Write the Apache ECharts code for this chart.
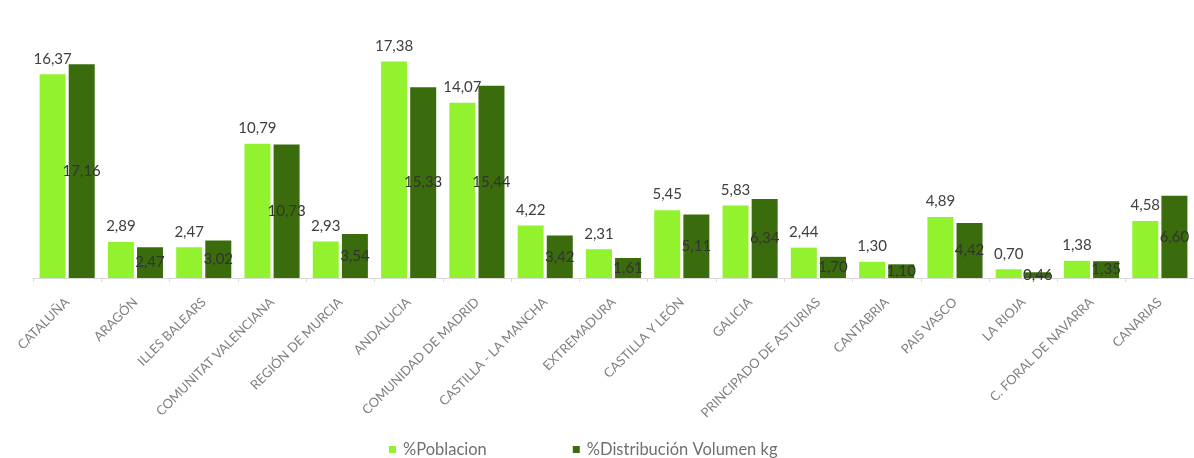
<!DOCTYPE html>
<html>
<head>
<meta charset="utf-8">
<script src="https://cdn.jsdelivr.net/npm/echarts@6/dist/echarts.min.js"></script>
<style>
html,body{margin:0;padding:0;background:#fff;}
#chart{width:1194px;height:458px;}
</style>
</head>
<body>
<div id="chart"></div>
<script>
const categories = ["CATALUÑA","ARAGÓN","ILLES BALEARS","COMUNITAT VALENCIANA","REGIÓN DE MURCIA","ANDALUCIA","COMUNIDAD DE MADRID","CASTILLA - LA MANCHA","EXTREMADURA","CASTILLA Y LEÓN","GALICIA","PRINCIPADO DE ASTURIAS","CANTABRIA","PAIS VASCO","LA RIOJA","C. FORAL DE NAVARRA","CANARIAS"];
const poblacion = [16.37,2.89,2.47,10.79,2.93,17.38,14.07,4.22,2.31,5.45,5.83,2.44,1.30,4.89,0.70,1.38,4.58];
const volumen = [17.16,2.47,3.02,10.73,3.54,15.33,15.44,3.42,1.61,5.11,6.34,1.70,1.10,4.42,0.46,1.35,6.60];
const seriesNames = ["%Poblacion","%Distribución Volumen kg"];

const fmt = p => p.value.toFixed(2).replace('.', ',');
const chart = echarts.init(document.getElementById('chart'), null, {renderer:'canvas'});
chart.setOption({
  animation:false,
  textStyle:{fontFamily:'Lato'},
  grid:{left:33, right:0, top:29, bottom:180, containLabel:false},
  legend:{
    data:seriesNames, bottom:-5, left:384, itemGap:86,
    itemWidth:7, itemHeight:7, icon:'rect',
    textStyle:{color:'#707070', fontSize:16.5, fontFamily:'Lato', padding:[0,0,0,2]}
  },
  xAxis:{
    type:'category', data:categories,
    axisLine:{lineStyle:{color:'#d9d9d9'}},
    axisTick:{show:true, length:4, lineStyle:{color:'#d9d9d9'}},
    axisLabel:{interval:0, rotate:45, color:'#808080', fontSize:13, margin:22, fontFamily:'Lato'}
  },
  yAxis:{type:'value', min:0, max:20, show:false, splitLine:{show:false}},
  series:[
    {name:seriesNames[0], type:'bar', data:poblacion, barWidth:26, barGap:'12%',
     itemStyle:{color:'#92F22E'},
     label:{show:true, position:'top', distance:8, formatter:fmt, color:'#404040', fontSize:15, fontFamily:'Lato'}},
    {name:seriesNames[1], type:'bar', data:volumen, barWidth:26,
     itemStyle:{color:'#3A6B0C'},
     label:{show:true, position:'inside', formatter:fmt, color:'#333333', fontSize:15, fontFamily:'Lato'}}
  ]
});
</script>
</body>
</html>
